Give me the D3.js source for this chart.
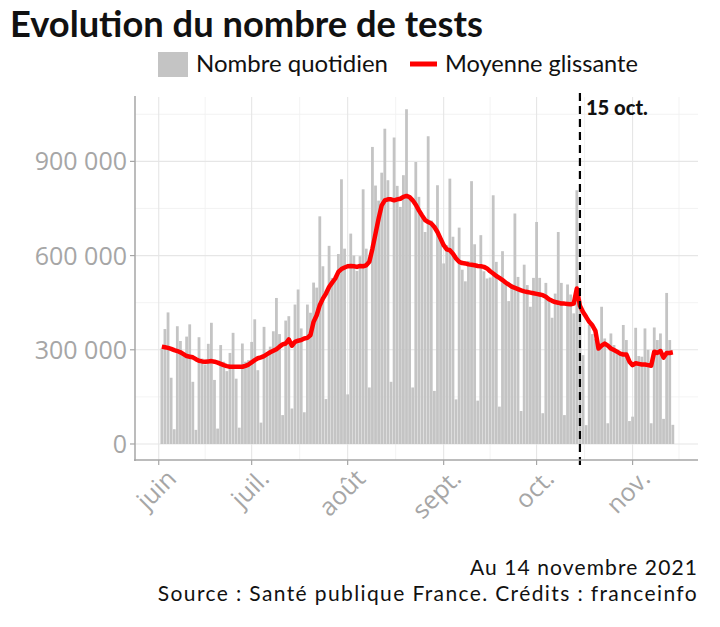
<!DOCTYPE html>
<html><head><meta charset="utf-8">
<script src="https://cdn.jsdelivr.net/npm/d3@7"></script>
<style>body{margin:0;background:#fff}svg{display:block}</style>
</head><body><svg id="c" width="720" height="627"></svg>
<script>
// ---------- DATA ----------
const startDate = "2021-06-02"; // first daily value, one per day until 2021-11-14
const dailyTests = [
 304,366,419,211,47,375,328,285,342,381,198,45,340,272,253,319,386,204,49,315,
 262,232,290,354,208,52,320,262,267,325,397,235,68,373,290,310,359,465,350,92,
 393,407,113,444,492,368,101,444,418,514,498,725,566,143,631,529,524,605,843,622,
 158,670,600,551,598,811,622,180,946,823,775,864,1004,840,198,976,822,755,856,1066,
 781,180,898,787,728,675,980,712,169,824,650,575,633,845,660,142,689,555,518,583,
 837,636,138,665,550,527,530,792,580,119,614,508,455,508,734,532,105,571,506,437,
 529,707,529,98,513,458,402,479,675,513,92,508,476,416,808,430,283,60,380,350,
 335,320,437,336,66,352,315,289,285,379,331,73,87,370,280,278,368,300,66,371,
 331,352,80,481,331,61
].map(v => v * 1000);
const movingAverage = [
 310,308,306,303,299,296,292,286,280,278,276,270,265,263,262,263,264,262,259,255,
 251,248,246,246,246,246,246,249,253,260,267,273,276,280,286,292,297,302,310,317,
 320,333,313,325,329,331,336,338,347,389,410,442,463,479,500,514,527,548,557,562,
 566,567,566,564,567,566,569,580,622,670,718,760,776,779,779,776,779,781,787,790,
 786,776,762,744,728,713,707,702,691,675,654,633,620,617,606,591,580,576,575,572,
 571,569,567,566,564,559,550,543,535,529,522,514,508,501,497,493,489,486,484,482,
 480,478,476,474,469,461,456,452,450,447,447,446,445,447,495,440,420,405,389,378,
 360,304,313,320,313,304,299,294,288,285,285,262,251,257,255,253,253,251,249,294,
 290,296,275,290,290,292
].map(v => v * 1000);
const monthTicks = ["2021-06-01","2021-07-01","2021-08-01","2021-09-01","2021-10-01","2021-11-01"];
const monthLabels = ["juin","juil.","août","sept.","oct.","nov."];
const yTicks = [0, 300000, 600000, 900000];
const yMinorTicks = [150000, 450000, 750000, 1050000];
const markerDate = "2021-10-15";
const markerLabel = "15 oct.";
const titleText = "Evolution du nombre de tests";
const legendLabels = ["Nombre quotidien", "Moyenne glissante"];
const footerLines = ["Au 14 novembre 2021", "Source : Santé publique France. Crédits : franceinfo"];

// ---------- SETUP ----------
const parse = d3.utcParse("%Y-%m-%d");
const t0 = parse(startDate);
const dates = dailyTests.map((_, i) => d3.utcDay.offset(t0, i));
const svg = d3.select("#c");
const FONT = "Lato, 'Open Sans', sans-serif";
const FONT2 = "'Open Sans', Lato, sans-serif";
const AX = "#a6a6a6";

const x = d3.scaleUtc()
  .domain([new Date(Date.UTC(2021,4,24,8)), new Date(Date.UTC(2021,10,22,3))])
  .range([135, 698]);
const y = d3.scaleLinear().domain([-51000, 1105000]).range([460, 97]);
const dayW = x(d3.utcDay.offset(t0,1)) - x(t0);
const bw = dayW * 0.9;

function fit(sel, w) {
  const len = sel.node().getComputedTextLength();
  sel.attr("font-size", parseFloat(sel.attr("font-size")) * w / len);
  return sel;
}
function fitSpacing(sel, w) {
  const n = sel.text().length;
  const len = sel.node().getComputedTextLength();
  sel.attr("letter-spacing", ((w - len) / n).toFixed(2));
  return sel;
}

// ---------- GRID ----------
const months = monthTicks.map(parse);
const allMonths = months.concat([d3.utcMonth.offset(months[months.length-1], 1)]);
const minorX = d3.pairs(allMonths).map(([a,b]) => new Date((+a + +b)/2));
const g = svg.append("g");
g.selectAll(".ymin").data(yMinorTicks).join("line")
  .attr("x1",135).attr("x2",698).attr("y1",d=>y(d)).attr("y2",d=>y(d))
  .attr("stroke","#f0f0f0").attr("stroke-width",0.8);
g.selectAll(".xmin").data(minorX).join("line")
  .attr("x1",d=>x(d)).attr("x2",d=>x(d)).attr("y1",97).attr("y2",460)
  .attr("stroke","#f0f0f0").attr("stroke-width",0.8);
g.selectAll(".ymaj").data(yTicks).join("line")
  .attr("x1",135).attr("x2",698).attr("y1",d=>y(d)).attr("y2",d=>y(d))
  .attr("stroke","#e6e6e6").attr("stroke-width",1.1);
g.selectAll(".xmaj").data(months).join("line")
  .attr("x1",d=>x(d)).attr("x2",d=>x(d)).attr("y1",97).attr("y2",460)
  .attr("stroke","#e6e6e6").attr("stroke-width",1.1);

// ---------- BARS ----------
svg.append("g").selectAll("rect").data(dailyTests).join("rect")
  .attr("x",(d,i)=>x(dates[i]) - bw/2).attr("width",bw)
  .attr("y",d=>y(d)).attr("height",d=>y(0)-y(d))
  .attr("fill","#c4c4c4");

// ---------- LINE ----------
svg.append("path").datum(movingAverage)
  .attr("d", d3.line().x((d,i)=>x(dates[i])).y(d=>y(d)))
  .attr("fill","none").attr("stroke","#ff0000").attr("stroke-width",4.5)
  .attr("stroke-linejoin","round");

// ---------- MARKER ----------
const mx = x(parse(markerDate));
svg.append("line").attr("x1",mx).attr("x2",mx).attr("y1",93).attr("y2",465)
  .attr("stroke","#000").attr("stroke-width",2.2).attr("stroke-dasharray","8,5");
fit(svg.append("text").attr("x",mx+6).attr("y",115).attr("font-family",FONT)
  .attr("font-weight",900).attr("font-size",18).attr("fill","#111").text(markerLabel), 62);

// ---------- AXES ----------
svg.append("line").attr("x1",135).attr("x2",135).attr("y1",96).attr("y2",461)
  .attr("stroke",AX).attr("stroke-width",1.5);
svg.append("line").attr("x1",134).attr("x2",698).attr("y1",460).attr("y2",460)
  .attr("stroke",AX).attr("stroke-width",1.5);
svg.selectAll(".yt").data(yTicks).join("line")
  .attr("x1",130).attr("x2",135).attr("y1",d=>y(d)).attr("y2",d=>y(d))
  .attr("stroke",AX).attr("stroke-width",1.2);
svg.selectAll(".xt").data(months).join("line")
  .attr("x1",d=>x(d)).attr("x2",d=>x(d)).attr("y1",460).attr("y2",465)
  .attr("stroke",AX).attr("stroke-width",1.2);
const fmt = d3.formatLocale({decimal:",", thousands:" ", grouping:[3], currency:["","€"]}).format(",");
svg.selectAll(".yl").data(yTicks).join("text")
  .attr("x",127).attr("y",d=>y(d)).attr("dy","0.36em").attr("text-anchor","end")
  .attr("font-family",FONT2).attr("font-size",25).attr("fill",AX).text(d=>fmt(d));
svg.selectAll(".xl").data(months).join("text")
  .attr("transform",d=>`translate(${x(d)+6},467) rotate(-45)`)
  .attr("dy","0.74em").attr("text-anchor","end")
  .attr("font-family",FONT2).attr("font-size",25).attr("fill",AX)
  .text((d,i)=>monthLabels[i]);

// ---------- TITLE / LEGEND / FOOTER ----------
fit(svg.append("text").attr("x",10).attr("y",37).attr("font-family",FONT).attr("font-weight",700)
  .attr("font-size",32).attr("fill","#111").text(titleText), 473);
svg.append("rect").attr("x",158).attr("y",52).attr("width",30).attr("height",25).attr("fill","#c4c4c4");
fit(svg.append("text").attr("x",196).attr("y",72).attr("font-family",FONT).attr("font-size",22)
  .attr("fill","#111").text(legendLabels[0]), 192);
svg.append("line").attr("x1",410).attr("x2",437).attr("y1",64).attr("y2",64)
  .attr("stroke","#ff0000").attr("stroke-width",5);
fit(svg.append("text").attr("x",445).attr("y",72).attr("font-family",FONT).attr("font-size",22)
  .attr("fill","#111").text(legendLabels[1]), 193);
fitSpacing(svg.append("text").attr("x",698).attr("y",575).attr("text-anchor","end").attr("font-family",FONT)
  .attr("font-size",21).attr("fill","#111").text(footerLines[0]), 228);
fitSpacing(svg.append("text").attr("x",698).attr("y",601).attr("text-anchor","end").attr("font-family",FONT)
  .attr("font-size",21).attr("fill","#111").text(footerLines[1]), 540);
</script></body></html>
